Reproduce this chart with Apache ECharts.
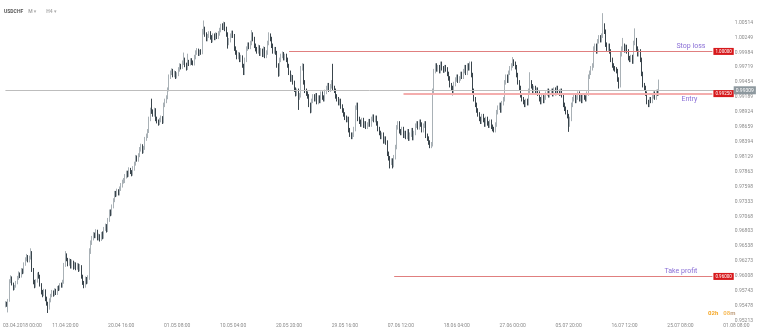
<!DOCTYPE html>
<html><head><meta charset="utf-8">
<script src="https://cdn.jsdelivr.net/npm/echarts@6/dist/echarts.min.js"></script>
<style>html,body{margin:0;padding:0;background:#fff}#c{width:760px;height:331px}</style>
</head><body><div id="c"></div>
<script>
// ---- data: USDCHF H4, prices stored as pips above 0.9000 ----
const symbolName = 'USDCHF';
const firstBarUTC = Date.UTC(2018, 3, 2, 12); // 02.04.2018 12:00
const futureBarCount = 73;

const opens = [
550,552,549,557,592,597,586,579,582,588, 598,605,600,612,608,622,630,636,628,633,
640,612,590,583,592,604,600,585,572,568, 574,560,552,544,558,566,572,568,575,570,
580,578,585,583,590,620,638,630,622,628, 618,625,616,622,615,620,612,618,600,588,
583,596,590,598,645,660,668,675,672,680, 668,672,666,676,670,685,690,682,700,715,
712,725,735,748,745,752,748,756,762,768, 770,778,784,780,790,786,782,792,800,812,
808,815,826,832,822,828,845,850,858,880, 895,893,888,896,880,876,872,878,882,875,
905,912,918,932,955,962,966,958,962,955, 960,968,975,972,980,985,976,970,982,978,
984,980,978,990,998,1002,996,1000,998,1035, 1040,1030,1022,1028,1032,1025,1020,1028,1024,1030,
1026,1032,1038,1045,1042,1048,1040,1030,1015,1020, 1028,1033,1028,1005,998,990,995,985,990,975,
962,985,1005,1012,1008,1015,1030,1022,1010,1004, 1000,1008,996,1002,994,1005,992,998,1015,1028,
1022,1010,1000,1004,998,975,960,985,992,996, 988,992,985,975,962,950,955,945,932,925,
930,918,922,970,975,945,930,925,920,905, 895,912,920,915,922,910,918,912,925,918,
915,928,935,940,932,938,945,935,930,920, 915,908,912,902,895,888,882,878,880,860,
852,848,852,862,900,905,880,875,870,878, 868,872,866,870,876,870,880,884,878,882,
872,862,855,848,852,840,845,838,818,810, 802,806,798,812,830,865,872,858,855,862,
850,855,848,858,845,852,860,846,855,868, 872,865,875,870,860,868,872,850,845,838,
832,835,930,965,975,968,972,965,978,970, 966,972,968,960,952,940,935,930,942,950,
955,948,952,960,955,965,972,962,975,970, 978,958,930,915,905,895,888,880,875,885,
878,870,880,872,868,875,866,862,860,870, 892,900,905,895,908,915,945,955,948,962,
970,975,982,978,972,958,945,935,922,915, 910,905,912,908,930,945,938,930,935,928,
932,925,915,910,920,912,918,925,930,922, 928,930,924,932,926,935,928,925,930,922,
905,898,892,885,870,880,905,915,920,912, 918,925,915,920,912,922,918,915,925,955,
962,970,975,1005,1010,1000,1018,1025,1020,1028, 1045,1035,1012,1005,1010,1000,985,975,970,968,
965,950,940,995,1005,1010,1002,1008,1000,988, 985,990,982,1015,1020,1005,995,1000,985,960,
940,935,925,910,905,915,912,920,925,918, 928,925];

const closes = [
552,549,557,592,597,586,579,582,588,598, 605,600,612,608,622,630,636,628,633,640,
612,590,583,592,604,600,585,572,568,574, 560,552,544,558,566,572,568,575,570,580,
578,585,583,590,620,638,630,622,628,618, 625,616,622,615,620,612,618,600,588,583,
596,590,598,645,660,668,675,672,680,668, 672,666,676,670,685,690,682,700,715,712,
725,735,748,745,752,748,756,762,768,770, 778,784,780,790,786,782,792,800,812,808,
815,826,832,822,828,845,850,858,880,895, 893,888,896,880,876,872,878,882,875,905,
912,918,932,955,962,966,958,962,955,960, 968,975,972,980,985,976,970,982,978,984,
980,978,990,998,1002,996,1000,998,1035,1040, 1030,1022,1028,1032,1025,1020,1028,1024,1030,1026,
1032,1038,1045,1042,1048,1040,1030,1015,1020,1028, 1033,1028,1005,998,990,995,985,990,975,962,
985,1005,1012,1008,1015,1030,1022,1010,1004,1000, 1008,996,1002,994,1005,992,998,1015,1028,1022,
1010,1000,1004,998,975,960,985,992,996,988, 992,985,975,962,950,955,945,932,925,930,
918,922,970,975,945,930,925,920,905,895, 912,920,915,922,910,918,912,925,918,915,
928,935,940,932,938,945,935,930,920,915, 908,912,902,895,888,882,878,880,860,852,
848,852,862,900,905,880,875,870,878,868, 872,866,870,876,870,880,884,878,882,872,
862,855,848,852,840,845,838,818,810,802, 806,798,812,830,865,872,858,855,862,850,
855,848,858,845,852,860,846,855,868,872, 865,875,870,860,868,872,850,845,838,832,
835,930,965,975,968,972,965,978,970,966, 972,968,960,952,940,935,930,942,950,955,
948,952,960,955,965,972,962,975,970,978, 958,930,915,905,895,888,880,875,885,878,
870,880,872,868,875,866,862,860,870,892, 900,905,895,908,915,945,955,948,962,970,
975,982,978,972,958,945,935,922,915,910, 905,912,908,930,945,938,930,935,928,932,
925,915,910,920,912,918,925,930,922,928, 930,924,932,926,935,928,925,930,922,905,
898,892,885,870,880,905,915,920,912,918, 925,915,920,912,922,918,915,925,955,962,
970,975,1005,1010,1000,1018,1025,1020,1028,1045, 1035,1012,1005,1010,1000,985,975,970,968,965,
950,940,995,1005,1010,1002,1008,1000,988,985, 990,982,1015,1020,1005,995,1000,985,960,940,
935,925,910,905,915,912,920,925,918,928, 925,931];

const highs = [
556,555,560,595,602,600,589,585,592,601, 609,607,615,614,625,634,640,638,637,650,
645,615,594,595,607,608,603,588,576,578, 577,564,555,561,569,576,575,579,578,583,
584,588,589,594,624,645,641,633,632,631, 630,628,626,625,624,623,622,620,603,592,
600,599,602,650,664,672,679,678,684,683, 676,675,679,680,688,694,693,704,719,719,
728,739,752,752,756,755,760,766,772,775, 782,788,788,794,793,789,796,804,816,815,
819,830,836,835,832,848,854,862,884,900, 916,897,900,899,884,879,882,886,885,909,
916,922,936,959,966,970,969,966,965,963, 972,979,978,984,998,989,980,996,985,988,
988,984,994,1002,1006,1005,1003,1004,1040,1055, 1044,1034,1031,1036,1036,1029,1032,1032,1034,1033,
1036,1042,1049,1050,1053,1052,1044,1034,1024,1032, 1037,1037,1031,1009,1002,999,998,994,993,978,
989,1009,1016,1016,1019,1038,1034,1026,1014,1008, 1012,1011,1006,1005,1009,1008,1002,1019,1034,1032,
1026,1014,1008,1008,1001,979,989,996,1000,999, 996,996,989,978,966,959,958,948,936,934,
934,926,974,979,978,949,934,929,924,909, 916,924,924,926,926,922,922,929,929,922,
932,939,944,944,942,949,978,939,934,924, 919,916,916,906,899,892,886,884,884,864,
856,856,866,904,909,909,884,879,882,882, 876,876,874,880,880,884,888,888,886,886,
876,866,859,856,856,849,849,842,822,814, 810,810,816,834,869,876,876,862,866,866,
859,859,862,862,856,864,864,859,872,876, 876,879,879,874,872,876,876,854,849,842,
839,934,969,979,979,976,976,982,982,974, 976,976,972,964,956,944,939,946,954,959,
959,956,964,964,969,976,976,979,979,982, 982,962,934,919,909,899,892,884,889,889,
882,884,884,876,879,879,870,866,874,896, 904,909,909,912,919,949,959,959,966,974,
979,990,986,982,976,962,949,939,926,919, 914,916,916,934,963,949,942,939,939,936,
936,929,919,924,924,922,929,934,934,932, 934,934,936,936,939,939,932,934,934,926,
909,902,896,889,884,909,919,924,924,922, 929,929,924,924,926,926,922,929,959,966,
974,979,1009,1014,1014,1022,1029,1029,1032,1068, 1050,1039,1016,1014,1014,1004,989,979,974,972,
969,954,999,1009,1024,1014,1012,1012,1004,992, 994,994,1019,1041,1024,1009,1004,1004,989,964,
944,939,929,914,919,919,924,929,929,932, 932,950];

const lows = [
545,546,536,555,588,584,575,576,580,586, 594,597,598,604,605,619,627,625,625,630,
608,586,579,580,589,596,582,568,563,565, 556,548,535,541,554,563,564,565,567,567,
574,575,580,580,587,617,627,618,619,614, 614,612,613,611,612,608,609,596,585,579,
580,586,587,594,640,656,664,668,668,664, 664,662,663,666,667,681,678,679,697,707,
708,721,732,741,742,744,744,752,758,765, 766,774,776,777,782,778,779,788,797,804,
804,812,822,818,819,825,841,846,855,876, 889,884,884,876,872,868,869,874,871,872,
901,908,915,929,951,958,954,954,951,952, 956,964,968,969,976,972,966,967,974,975,
976,975,975,986,994,992,992,994,995,1030, 1026,1018,1018,1024,1021,1015,1016,1020,1020,1022,
1022,1028,1034,1038,1038,1036,1026,1005,1011,1016, 1024,1024,1001,994,986,986,981,981,971,958,
958,981,1001,1004,1004,1011,1018,1006,1000,996, 996,992,992,990,990,988,988,994,1011,1018,
1006,996,996,994,971,955,956,981,988,984, 984,981,971,958,946,946,941,928,920,921,
896,914,918,966,941,926,921,916,901,890, 891,908,911,911,906,906,908,908,914,911,
911,924,931,928,928,934,931,926,916,911, 904,904,898,891,884,878,874,874,856,848,
844,844,848,858,896,876,871,866,866,864, 864,862,862,866,866,866,876,874,874,868,
858,851,844,844,836,836,834,814,806,792, 798,792,794,808,826,861,854,851,851,846,
846,844,844,841,841,848,842,842,851,864, 861,861,866,856,856,864,846,841,834,828,
828,831,926,961,964,964,961,961,966,962, 962,964,956,948,936,931,922,926,938,946,
944,944,948,951,951,961,958,958,966,966, 954,926,911,901,891,884,876,871,871,874,
866,866,868,864,864,862,858,856,856,866, 888,896,891,891,904,911,941,944,944,958,
966,971,974,968,954,941,931,918,911,906, 901,901,904,904,926,934,926,926,924,924,
921,911,906,906,908,908,914,921,918,918, 924,920,920,922,922,924,921,921,918,901,
894,888,881,857,866,876,901,911,908,908, 914,911,911,908,908,914,911,911,921,951,
958,966,971,1001,996,996,1014,1016,1016,1024, 1031,1008,1001,1001,996,981,971,966,964,961,
946,934,936,991,1001,998,998,996,984,981, 981,978,978,1011,1001,991,991,981,956,936,
931,921,906,901,901,908,908,916,914,914, 921,921];

// x-axis tick labels (category names) and y-axis tick labels
const xTickLabels = ['03.04 00:00','11.04 20:00','20.04 16:00','01.05 08:00','10.05 04:00','20.05 20:00','29.05 16:00','07.06 12:00','18.06 04:00','27.06 00:00','05.07 20:00','16.07 12:00','25.07 08:00','01.08 08:00'];
const firstTickText = '03.04.2018 00:00';
const yTickLabels = ['0.95213','0.95478','0.95743','0.96008','0.96273','0.96538','0.96803','0.97068','0.97333','0.97598','0.97863','0.98129','0.98394','0.98659','0.98924','0.99189','0.99454','0.99719','0.99984','1.00249','1.00514'];
const yMin = 0.95213, yStep = 0.0026505, yMax = 1.0077905;

// trade levels
const levelNames = ['Stop loss','Entry','Take profit'];
const levelPrices = [1.00000, 0.99250, 0.96000];
const levelStart = ['20.05 20:00','07.06 20:00','06.06 16:00'];
const levelEnd = '29.07 08:00';
const lastPrice = 0.99309;
const lastPriceLineEnd = '01.08 00:00';
const timerText = ['02h','08','m'];

// ---- build categories (H4 trading bars, then calendar bars for the future) ----
const H4 = 4 * 3600 * 1000;
const pad = n => String(n).padStart(2, '0');
const fmt = t => { const d = new Date(t); return pad(d.getUTCDate()) + '.' + pad(d.getUTCMonth() + 1) + ' ' + pad(d.getUTCHours()) + ':00'; };
const isTradingBar = t => { const d = new Date(t); const w = d.getUTCDay(); if (w === 6) return false; if (w === 0) return d.getUTCHours() === 20; return true; };
const categories = [];
let t = firstBarUTC;
while (categories.length < closes.length) { if (isTradingBar(t)) categories.push(fmt(t)); t += H4; }
while (!isTradingBar(t)) t += H4;
while (categories.length < closes.length + futureBarCount) { categories.push(fmt(t)); t += H4; }

const toPrice = v => +((9000 + v) / 10000).toFixed(4);
const ohlc = closes.map((c, i) => [toPrice(opens[i]), toPrice(c), toPrice(lows[i]), toPrice(highs[i])]);

const xTickSet = new Set(xTickLabels);
const FONT = 'Roboto, "DejaVu Sans", sans-serif';
const purple = '#8a6fd6';
const red = '#d7191c';
const yLabelFor = v => { for (const s of yTickLabels) { if (Math.abs(parseFloat(s) - v) < 0.000008) return s; } return ''; };

const levelLabelCfg = [
  {pos: 'insideEndTop', dist: [7, 2]},
  {pos: 'insideEndBottom', dist: [15, 2]},
  {pos: 'insideEndTop', dist: [15, 2]}
];
const levelLineCfg = [
  {color: '#e07f7f', width: 1},
  {color: '#f4adad', width: 2},
  {color: '#e07f7f', width: 1}
];

const markData = [];
levelNames.forEach((name, i) => {
  markData.push([
    {coord: [levelStart[i], levelPrices[i]], lineStyle: {color: levelLineCfg[i].color, width: levelLineCfg[i].width, type: 'solid'},
     label: {show: true, position: levelLabelCfg[i].pos, distance: levelLabelCfg[i].dist, formatter: name, color: purple, fontSize: 7, fontFamily: FONT}},
    {coord: [levelEnd, levelPrices[i]]}
  ]);
  markData.push([
    {coord: [levelStart[i], levelPrices[i]], lineStyle: {color: 'rgba(0,0,0,0)', width: 0},
     label: {show: true, position: 'end', distance: 1, formatter: levelPrices[i].toFixed(5), color: '#fff', backgroundColor: red, fontSize: 4.5, padding: [1, 2], fontFamily: FONT}},
    {coord: [levelEnd, levelPrices[i]]}
  ]);
});
markData.push([
  {coord: [categories[0], lastPrice], lineStyle: {color: '#bdbdbd', width: 1, type: 'solid'},
   label: {show: true, position: 'end', distance: 0, formatter: lastPrice.toFixed(5), color: '#fff', backgroundColor: '#8d989e', fontSize: 5, padding: [1.5, 2], fontFamily: FONT}},
  {coord: [lastPriceLineEnd, lastPrice]}
]);

const chart = echarts.init(document.getElementById('c'), null, {renderer: 'canvas'});
chart.setOption({
  animation: false,
  backgroundColor: '#fff',
  title: [
    {text: '{s|' + symbolName + '} {m|M ▾}  {m|H4 ▾}', left: 4, top: 3, padding: 0,
     textStyle: {rich: {s: {fontSize: 5, fontWeight: 'bold', color: '#555', fontFamily: FONT}, m: {fontSize: 5, color: '#aaa', fontFamily: FONT}}}},
    {text: '{a|' + timerText[0] + '} {b|' + timerText[1] + '}{c|' + timerText[2] + '}', left: 708, top: 304, padding: 0,
     textStyle: {rich: {a: {fontSize: 6, color: '#f5a623', fontFamily: FONT}, b: {fontSize: 6, color: '#f7bd5e', fontFamily: FONT}, c: {fontSize: 6, color: '#c0a080', fontFamily: FONT}}}}
  ],
  grid: {left: 2.2, right: 3, top: 7.6, bottom: 10.3, containLabel: false},
  xAxis: {
    type: 'category', data: categories, boundaryGap: true,
    axisLine: {show: false}, axisTick: {show: false}, splitLine: {show: false},
    axisLabel: {
      interval: (i, v) => xTickSet.has(v), fontSize: 5, color: '#8a8a8a', margin: 3, fontFamily: FONT,
      formatter: v => v === xTickLabels[0] ? '{f|' + firstTickText + '}' : v,
      rich: {f: {padding: [0, 0, 0, 26], fontSize: 5, color: '#8a8a8a', fontFamily: FONT}}
    }
  },
  yAxis: {
    type: 'value', position: 'right', min: yMin, max: yMax, interval: yStep,
    axisLine: {show: false}, axisTick: {show: false}, splitLine: {show: false},
    axisLabel: {inside: true, margin: 4, fontSize: 5, color: '#8a8a8a', fontFamily: FONT, formatter: v => yLabelFor(v)}
  },
  series: [{
    type: 'candlestick', data: ohlc, barWidth: 0.6,
    itemStyle: {color: '#a9b1b6', color0: '#3a454c', borderColor: '#a9b1b6', borderColor0: '#3a454c', borderWidth: 1},
    markLine: {silent: true, symbol: ['none', 'none'], animation: false, data: markData}
  }]
});
</script>
</body></html>
